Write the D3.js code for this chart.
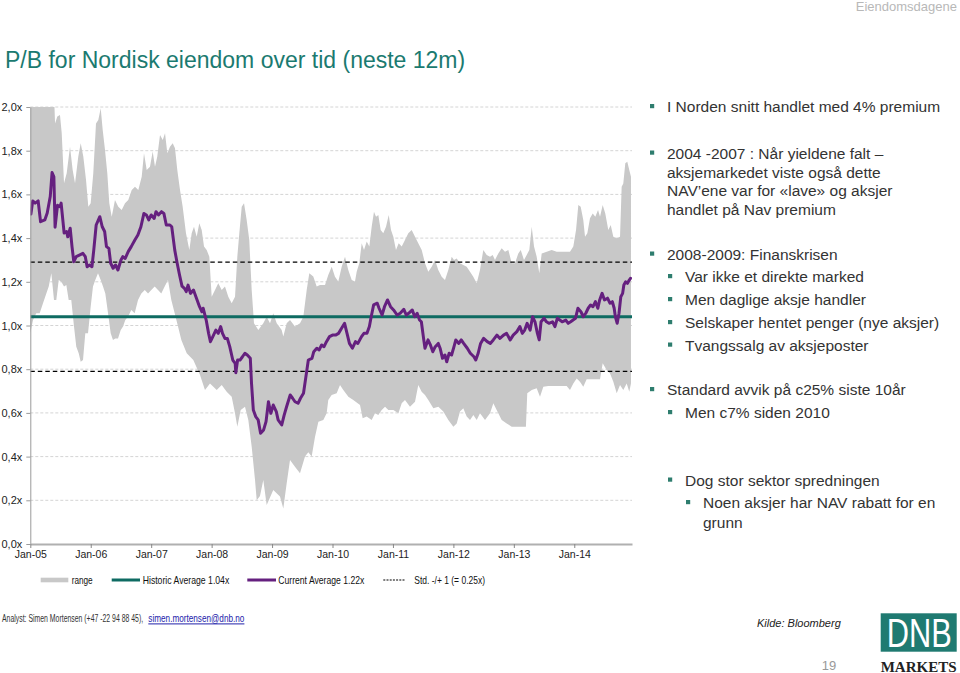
<!DOCTYPE html>
<html><head><meta charset="utf-8">
<script src="https://cdn.jsdelivr.net/npm/d3@7"></script>
<style>
body{margin:0;background:#fff;}
svg{display:block;font-family:"Liberation Sans",Arial,sans-serif;}
</style>
</head><body>
<svg id="chart" width="960" height="673"></svg>
<script>
// ---------------- DATA ----------------
const years = [2005,2006,2007,2008,2009,2010,2011,2012,2013,2014];
const yTicks = [0,0.2,0.4,0.6,0.8,1.0,1.2,1.4,1.6,1.8,2.0];
const historicAverage = 1.04;
const currentAverage = 1.22;
const stdDev = 0.25;

// current P/B (decimal year, value)
const currentPB = [
[2005.01,1.51],[2005.04,1.57],[2005.08,1.56],[2005.13,1.57],[2005.17,1.475],[2005.24,1.483],[2005.28,1.515],[2005.33,1.59],
[2005.36,1.70],[2005.39,1.68],[2005.41,1.45],[2005.45,1.55],[2005.49,1.544],[2005.51,1.56],[2005.56,1.423],[2005.60,1.43],
[2005.62,1.406],[2005.66,1.445],[2005.69,1.361],[2005.72,1.292],[2005.76,1.315],[2005.82,1.323],[2005.87,1.33],[2005.91,1.315],
[2005.94,1.269],[2005.98,1.277],[2006.02,1.269],[2006.05,1.345],[2006.09,1.46],[2006.15,1.498],[2006.19,1.452],[2006.23,1.43],
[2006.26,1.361],[2006.30,1.353],[2006.33,1.285],[2006.37,1.262],[2006.41,1.277],[2006.45,1.254],[2006.50,1.30],[2006.53,1.315],
[2006.57,1.307],[2006.62,1.338],[2006.67,1.361],[2006.73,1.391],[2006.78,1.414],[2006.83,1.452],[2006.88,1.513],[2006.92,1.506],
[2006.96,1.483],[2007.00,1.506],[2007.05,1.49],[2007.08,1.521],[2007.12,1.506],[2007.17,1.521],[2007.21,1.513],[2007.25,1.46],
[2007.31,1.46],[2007.34,1.452],[2007.39,1.345],[2007.43,1.285],[2007.47,1.23],[2007.51,1.18],[2007.55,1.17],[2007.58,1.155],
[2007.61,1.185],[2007.65,1.147],[2007.70,1.162],[2007.74,1.132],[2007.80,1.086],[2007.84,1.063],[2007.86,1.079],[2007.91,1.025],
[2007.95,0.964],[2007.98,0.926],[2008.02,0.949],[2008.07,0.979],[2008.11,0.964],[2008.15,0.995],[2008.18,0.964],[2008.22,0.941],
[2008.26,0.941],[2008.30,0.903],[2008.35,0.842],[2008.39,0.827],[2008.40,0.784],[2008.43,0.842],[2008.47,0.842],[2008.51,0.857],
[2008.55,0.873],[2008.59,0.865],[2008.64,0.85],[2008.66,0.735],[2008.69,0.613],[2008.73,0.583],[2008.77,0.568],[2008.81,0.507],
[2008.86,0.522],[2008.90,0.56],[2008.94,0.651],[2008.98,0.598],[2009.02,0.636],[2009.07,0.606],[2009.10,0.568],[2009.16,0.545],
[2009.20,0.59],[2009.24,0.628],[2009.30,0.682],[2009.34,0.667],[2009.38,0.651],[2009.43,0.644],[2009.47,0.667],[2009.52,0.69],
[2009.56,0.766],[2009.60,0.842],[2009.66,0.85],[2009.69,0.88],[2009.74,0.896],[2009.78,0.888],[2009.82,0.911],[2009.86,0.903],
[2009.90,0.926],[2009.95,0.949],[2010.00,0.956],[2010.05,0.956],[2010.10,0.964],[2010.15,0.987],[2010.20,1.01],[2010.24,0.964],
[2010.28,0.918],[2010.33,0.896],[2010.38,0.926],[2010.42,0.918],[2010.48,0.949],[2010.52,0.964],[2010.57,0.964],[2010.61,0.995],
[2010.64,1.04],[2010.68,1.094],[2010.74,1.102],[2010.77,1.079],[2010.82,1.048],[2010.86,1.086],[2010.91,1.117],[2010.96,1.086],
[2011.01,1.071],[2011.07,1.048],[2011.12,1.056],[2011.18,1.074],[2011.22,1.048],[2011.26,1.056],[2011.32,1.071],[2011.36,1.04],
[2011.40,1.056],[2011.44,1.025],[2011.47,1.017],[2011.51,0.934],[2011.53,0.896],[2011.58,0.934],[2011.62,0.911],[2011.66,0.88],
[2011.70,0.903],[2011.75,0.918],[2011.78,0.896],[2011.82,0.85],[2011.86,0.865],[2011.89,0.834],[2011.93,0.873],[2011.97,0.865],
[2012.01,0.903],[2012.04,0.934],[2012.09,0.918],[2012.13,0.934],[2012.17,0.918],[2012.23,0.896],[2012.28,0.873],[2012.34,0.857],
[2012.37,0.842],[2012.41,0.873],[2012.45,0.918],[2012.50,0.941],[2012.56,0.926],[2012.61,0.918],[2012.66,0.934],[2012.72,0.956],
[2012.77,0.941],[2012.83,0.956],[2012.88,0.964],[2012.94,0.934],[2012.99,0.956],[2013.05,0.972],[2013.10,0.995],[2013.14,0.964],
[2013.18,0.979],[2013.22,1.01],[2013.27,0.979],[2013.31,1.04],[2013.35,1.017],[2013.39,0.964],[2013.42,0.934],[2013.45,1.017],
[2013.50,1.033],[2013.54,1.017],[2013.58,1.01],[2013.64,1.017],[2013.68,0.995],[2013.72,1.033],[2013.76,1.025],[2013.80,1.017],
[2013.86,1.025],[2013.90,1.01],[2013.94,1.017],[2013.98,1.025],[2014.02,1.033],[2014.06,1.079],[2014.11,1.063],[2014.15,1.04],
[2014.19,1.056],[2014.23,1.079],[2014.27,1.094],[2014.31,1.086],[2014.35,1.109],[2014.39,1.079],[2014.42,1.117],[2014.46,1.147],
[2014.50,1.117],[2014.55,1.125],[2014.59,1.102],[2014.63,1.109],[2014.66,1.079],[2014.68,1.04],[2014.71,1.01],[2014.74,1.056],
[2014.77,1.132],[2014.80,1.147],[2014.82,1.185],[2014.85,1.20],[2014.88,1.193],[2014.91,1.208],[2014.93,1.216]
];

// range high (decimal year, value)
const rangeUpper = [
[2005.00,2.00],[2005.40,2.00],[2005.41,1.925],[2005.447,1.956],[2005.491,1.963],[2005.52,1.88],[2005.558,1.651],[2005.602,1.697],
[2005.657,1.818],[2005.701,1.712],[2005.74,1.651],[2005.794,1.773],[2005.834,1.834],[2005.877,1.773],[2005.922,1.666],[2005.96,1.544],
[2005.999,1.559],[2006.042,1.697],[2006.087,1.925],[2006.125,1.94],[2006.165,1.994],[2006.198,1.895],[2006.236,1.803],[2006.274,1.697],
[2006.307,1.559],[2006.347,1.498],[2006.401,1.574],[2006.456,1.544],[2006.512,1.529],[2006.567,1.559],[2006.621,1.574],[2006.678,1.62],
[2006.732,1.635],[2006.787,1.62],[2006.843,1.681],[2006.881,1.788],[2006.926,1.712],[2006.98,1.727],[2007.025,1.796],[2007.063,1.727],
[2007.101,1.773],[2007.146,1.872],[2007.191,1.849],[2007.229,1.88],[2007.267,1.788],[2007.311,1.818],[2007.356,1.834],[2007.394,1.811],
[2007.432,1.712],[2007.477,1.62],[2007.521,1.544],[2007.576,1.422],[2007.631,1.345],[2007.67,1.422],[2007.708,1.452],[2007.753,1.406],
[2007.796,1.468],[2007.836,1.437],[2007.874,1.361],[2007.918,1.345],[2007.962,1.315],[2008.001,1.132],[2008.056,1.162],[2008.11,1.193],
[2008.167,1.162],[2008.221,1.178],[2008.276,1.132],[2008.332,1.102],[2008.387,1.132],[2008.425,1.315],[2008.458,1.422],[2008.498,1.544],
[2008.536,1.559],[2008.58,1.483],[2008.623,1.391],[2008.663,1.162],[2008.701,1.01],[2008.772,0.979],[2008.855,1.01],[2008.911,1.04],
[2008.966,1.01],[2009.02,1.056],[2009.077,1.01],[2009.159,0.979],[2009.186,0.95],[2009.242,1.01],[2009.297,1.025],[2009.379,0.995],
[2009.462,1.01],[2009.517,1.04],[2009.573,1.162],[2009.616,1.239],[2009.682,1.224],[2009.738,1.178],[2009.793,1.185],[2009.876,1.185],
[2009.93,1.231],[2009.987,1.269],[2010.041,1.223],[2010.096,1.201],[2010.152,1.269],[2010.207,1.315],[2010.261,1.254],[2010.318,1.208],
[2010.372,1.201],[2010.40,1.246],[2010.443,1.285],[2010.483,1.376],[2010.521,1.346],[2010.566,1.384],[2010.609,1.361],[2010.648,1.452],
[2010.686,1.521],[2010.72,1.498],[2010.758,1.506],[2010.797,1.437],[2010.84,1.422],[2010.885,1.452],[2010.93,1.506],[2010.968,1.437],
[2011.006,1.406],[2011.05,1.346],[2011.095,1.376],[2011.145,1.361],[2011.199,1.391],[2011.254,1.422],[2011.31,1.437],[2011.365,1.406],
[2011.419,1.376],[2011.476,1.346],[2011.53,1.285],[2011.585,1.246],[2011.641,1.269],[2011.696,1.30],[2011.75,1.254],[2011.807,1.223],
[2011.861,1.208],[2011.916,1.254],[2011.972,1.315],[2012.01,1.30],[2012.055,1.307],[2012.109,1.285],[2012.164,1.277],[2012.22,1.269],
[2012.275,1.246],[2012.329,1.223],[2012.386,1.193],[2012.44,1.254],[2012.495,1.346],[2012.551,1.323],[2012.606,1.315],[2012.65,1.323],
[2012.688,1.30],[2012.743,1.33],[2012.799,1.353],[2012.854,1.338],[2012.909,1.346],[2012.965,1.285],[2013.019,1.285],[2013.074,1.33],
[2013.114,1.346],[2013.168,1.30],[2013.213,1.323],[2013.256,1.346],[2013.296,1.452],[2013.334,1.361],[2013.378,1.315],[2013.421,1.239],
[2013.461,1.33],[2013.544,1.338],[2013.626,1.346],[2013.709,1.338],[2013.818,1.338],[2013.929,1.338],[2013.984,1.361],[2014.029,1.437],
[2014.067,1.551],[2014.106,1.544],[2014.149,1.483],[2014.178,1.406],[2014.216,1.422],[2014.26,1.491],[2014.305,1.513],[2014.348,1.498],
[2014.393,1.529],[2014.426,1.498],[2014.47,1.551],[2014.513,1.513],[2014.563,1.437],[2014.603,1.46],[2014.646,1.406],[2014.702,1.399],
[2014.757,1.406],[2014.784,1.635],[2014.811,1.65],[2014.844,1.742],[2014.877,1.75],[2014.91,1.712],[2014.938,1.681]
];

// range low (decimal year, value)
const rangeLower = [
[2005.00,0.964],[2005.045,1.025],[2005.099,1.056],[2005.155,1.056],[2005.21,1.102],[2005.265,1.147],[2005.305,1.178],[2005.348,1.239],
[2005.392,1.117],[2005.43,1.117],[2005.47,1.208],[2005.513,1.20],[2005.558,1.178],[2005.596,1.185],[2005.635,1.117],[2005.678,1.117],
[2005.723,0.995],[2005.761,0.903],[2005.801,0.873],[2005.834,0.834],[2005.872,0.842],[2005.91,0.964],[2005.955,0.964],[2005.999,1.086],
[2006.037,1.178],[2006.075,1.208],[2006.12,1.239],[2006.165,1.208],[2006.203,1.178],[2006.241,1.147],[2006.286,1.056],[2006.33,0.964],
[2006.368,0.934],[2006.406,0.941],[2006.451,0.941],[2006.496,0.979],[2006.534,0.995],[2006.572,1.025],[2006.616,1.04],[2006.671,1.071],
[2006.727,1.056],[2006.782,1.117],[2006.837,1.147],[2006.894,1.162],[2006.948,1.147],[2007.002,1.162],[2007.058,1.178],[2007.113,1.162],
[2007.167,1.147],[2007.223,1.178],[2007.278,1.208],[2007.333,1.117],[2007.389,1.056],[2007.444,0.995],[2007.499,0.934],[2007.588,0.873],
[2007.697,0.842],[2007.808,0.773],[2007.89,0.705],[2007.973,0.735],[2008.084,0.705],[2008.167,0.728],[2008.249,0.697],[2008.332,0.674],
[2008.387,0.598],[2008.425,0.537],[2008.481,0.613],[2008.552,0.628],[2008.607,0.568],[2008.663,0.445],[2008.718,0.293],[2008.746,0.20],
[2008.80,0.22],[2008.855,0.293],[2008.911,0.178],[2009.02,0.247],[2009.131,0.217],[2009.186,0.163],[2009.242,0.278],[2009.297,0.384],
[2009.379,0.353],[2009.462,0.324],[2009.545,0.40],[2009.60,0.42],[2009.655,0.40],[2009.71,0.49],[2009.766,0.56],[2009.848,0.568],
[2009.903,0.598],[2009.93,0.659],[2009.986,0.682],[2010.069,0.69],[2010.124,0.728],[2010.179,0.705],[2010.262,0.674],[2010.344,0.659],
[2010.455,0.636],[2010.499,0.575],[2010.566,0.583],[2010.648,0.568],[2010.703,0.598],[2010.758,0.59],[2010.814,0.613],[2010.869,0.628],
[2010.924,0.613],[2011.007,0.613],[2011.09,0.598],[2011.145,0.644],[2011.199,0.659],[2011.282,0.628],[2011.365,0.651],[2011.419,0.728],
[2011.475,0.697],[2011.53,0.682],[2011.585,0.659],[2011.668,0.621],[2011.751,0.628],[2011.833,0.606],[2011.916,0.568],[2011.999,0.537],
[2012.055,0.552],[2012.109,0.606],[2012.164,0.621],[2012.22,0.583],[2012.275,0.568],[2012.33,0.59],[2012.386,0.568],[2012.44,0.598],
[2012.523,0.568],[2012.606,0.598],[2012.661,0.644],[2012.716,0.613],[2012.799,0.568],[2012.882,0.552],[2012.965,0.537],[2013.047,0.537],
[2013.20,0.537],[2013.222,0.69],[2013.296,0.705],[2013.378,0.713],[2013.433,0.674],[2013.488,0.72],[2013.57,0.723],[2013.709,0.723],
[2013.874,0.723],[2013.929,0.705],[2013.984,0.735],[2014.04,0.758],[2014.094,0.743],[2014.149,0.72],[2014.205,0.754],[2014.288,0.754],
[2014.426,0.754],[2014.47,0.827],[2014.536,0.796],[2014.59,0.781],[2014.646,0.743],[2014.702,0.69],[2014.757,0.728],[2014.811,0.705],
[2014.867,0.735],[2014.91,0.697],[2014.938,0.735]
];

const legendItems = ["range","Historic Average 1.04x","Current Average 1.22x","Std. -/+ 1 (= 0.25x)"];

const bullets = [
  {lvl:0, y:107, t:"I Norden snitt handlet med 4% premium"},
  {lvl:0, y:153.5, t:"2004 -2007 : Når yieldene falt –"},
  {lvl:-1, y:172.5, t:"aksjemarkedet viste også dette"},
  {lvl:-1, y:191, t:"NAV’ene var for «lave» og aksjer"},
  {lvl:-1, y:209.5, t:"handlet på Nav premium"},
  {lvl:0, y:254.5, t:"2008-2009: Finanskrisen"},
  {lvl:1, y:277, t:"Var ikke et direkte marked"},
  {lvl:1, y:300, t:"Men daglige aksje handler"},
  {lvl:1, y:323, t:"Selskaper hentet penger (nye aksjer)"},
  {lvl:1, y:345.5, t:"Tvangssalg av aksjeposter"},
  {lvl:0, y:390, t:"Standard avvik på c25% siste 10år"},
  {lvl:1, y:413, t:"Men c7% siden 2010"},
  {lvl:1, y:480.5, t:"Dog stor sektor spredningen"},
  {lvl:2, y:503, t:"Noen aksjer har NAV rabatt for en"},
  {lvl:-2, y:522.5, t:"grunn"}
];

// ---------------- DRAW ----------------
const svg = d3.select("#chart");
svg.append("rect").attr("width",960).attr("height",673).attr("fill","#fff");

const pLeft = 30.3, pRight = 632, pTop = 107, pBottom = 544;
const x = d3.scaleLinear().domain([2005, 2014.955]).range([pLeft, pRight]);
const y = d3.scaleLinear().domain([0, 2]).range([pBottom, pTop]);

svg.append("defs").append("clipPath").attr("id","plot")
  .append("rect").attr("x",pLeft).attr("y",pTop).attr("width",pRight-pLeft).attr("height",pBottom-pTop);

// gridlines
svg.append("g").selectAll("line").data(yTicks.filter(d=>d>0)).join("line")
  .attr("x1",pLeft).attr("x2",pRight).attr("y1",d=>y(d)).attr("y2",d=>y(d))
  .attr("stroke","#d4d4d4").attr("stroke-width",1).attr("stroke-dasharray","3,2");

const g = svg.append("g").attr("clip-path","url(#plot)");

// range area
const lineGen = d3.line().x(d=>x(d[0])).y(d=>y(d[1]));
g.append("path")
  .attr("d", lineGen(rangeUpper.concat(rangeLower.slice().reverse())) + "Z")
  .attr("fill","#c8c8c8").attr("stroke","none");

// std lines
[historicAverage+stdDev, historicAverage-stdDev].forEach(v=>{
  g.append("line").attr("x1",pLeft).attr("x2",pRight).attr("y1",y(v)).attr("y2",y(v))
   .attr("stroke","#000").attr("stroke-width",1.4).attr("stroke-dasharray","4.5,3");
});
// historic average
g.append("line").attr("x1",pLeft).attr("x2",pRight).attr("y1",y(historicAverage)).attr("y2",y(historicAverage))
  .attr("stroke","#0e6b62").attr("stroke-width",3);

// current P/B line
g.append("path").attr("d", lineGen(currentPB))
  .attr("fill","none").attr("stroke","#65207f").attr("stroke-width",3)
  .attr("stroke-linejoin","round").attr("stroke-linecap","round");

// axes
const yAxis = svg.append("g").attr("transform",`translate(${pLeft},0)`)
  .call(d3.axisLeft(y).tickValues(yTicks).tickFormat(d=>d.toFixed(1).replace(".",",")+"x").tickSize(4).tickSizeOuter(0).tickPadding(4));
yAxis.select(".domain").attr("stroke","#9a9a9a");
yAxis.selectAll(".tick line").attr("stroke","#9a9a9a");
yAxis.selectAll("text").attr("font-size",11).attr("fill","#222").attr("font-family","'Liberation Sans',Arial,sans-serif");

const xAxis = svg.append("g").attr("transform",`translate(0,${pBottom})`)
  .call(d3.axisBottom(x).tickValues(years).tickFormat(d=>"Jan-"+String(d).slice(2)).tickSize(4).tickSizeOuter(0).tickPadding(3));
xAxis.select(".domain").attr("stroke","#b0b0b0").attr("stroke-width",2);
xAxis.selectAll(".tick line").attr("stroke","#888");
xAxis.selectAll("text").attr("font-size",10.5).attr("fill","#222").attr("font-family","'Liberation Sans',Arial,sans-serif");

// legend
const lg = svg.append("g").attr("font-size",11.5).attr("fill","#111");
lg.append("rect").attr("x",40.7).attr("y",577.7).attr("width",27.6).attr("height",4.6).attr("fill","#c8c8c8");
lg.append("line").attr("x1",111.7).attr("x2",140).attr("y1",580).attr("y2",580).attr("stroke","#0e6b62").attr("stroke-width",3);
lg.append("line").attr("x1",247.3).attr("x2",276).attr("y1",580).attr("y2",580).attr("stroke","#65207f").attr("stroke-width",3);
lg.append("line").attr("x1",383.3).attr("x2",405).attr("y1",580).attr("y2",580).attr("stroke","#000").attr("stroke-width",1.2).attr("stroke-dasharray","2,1.2");
const legPos = [[71.7,21],[142.7,86.6],[278.3,86],[414.3,70.7]];
legendItems.forEach((t,i)=>{
  lg.append("text").attr("x",legPos[i][0]).attr("y",580).attr("dy","0.35em")
    .attr("textLength",legPos[i][1]).attr("lengthAdjust","spacingAndGlyphs").text(t);
});

// title & header
svg.append("text").attr("x",5).attr("y",68).attr("font-size",23).attr("fill","#1b7a70").text("P/B for Nordisk eiendom over tid (neste 12m)");
svg.append("text").attr("x",957).attr("y",11).attr("text-anchor","end").attr("font-size",13).attr("fill","#b8b8b8").text("Eiendomsdagene");

// right side bullets
const bx = {0:650, 1:668, 2:686};
const tx = {0:667, 1:685, 2:703, "-1":667, "-2":703};
const bg = svg.append("g").attr("font-size",15.5).attr("fill","#333");
bullets.forEach(b=>{
  if (b.lvl >= 0) bg.append("rect").attr("x",bx[b.lvl]).attr("y",b.y-3).attr("width",4.2).attr("height",4.2).attr("fill","#2e7d6e");
  bg.append("text").attr("x",tx[b.lvl]).attr("y",b.y).attr("dy","0.35em").text(b.t);
});

// footer (horizontally condensed via transforms)
svg.append("text").attr("transform","translate(2,622.3) scale(0.69,1)").attr("font-size",10).attr("fill","#333")
  .text("Analyst: Simen Mortensen (+47 -22 94 88 45),");
svg.append("text").attr("transform","translate(148.3,622.3) scale(0.82,1)").attr("font-size",10).attr("fill","#2222aa")
  .attr("text-decoration","underline").text("simen.mortensen@dnb.no");
svg.append("text").attr("x",757).attr("y",623.5).attr("dy","0.35em").attr("font-size",11).attr("font-style","italic").attr("fill","#222").text("Kilde: Bloomberg");
svg.append("text").attr("x",829).attr("y",665).attr("dy","0.35em").attr("text-anchor","middle").attr("font-size",13).attr("fill","#999").text("19");

// logo
svg.append("rect").attr("x",880.7).attr("y",613.3).attr("width",76).attr("height",38.4).attr("fill","#1f7a71");
svg.append("text").attr("transform","translate(886.7,646.5) scale(1,1.3)").attr("font-size",30.8).attr("fill","#fff").text("DNB");
svg.append("text").attr("x",880.7).attr("y",671.5).attr("font-family","'Liberation Serif',serif").attr("font-weight","bold")
  .attr("font-size",15.5).attr("fill","#222").attr("textLength",76).attr("lengthAdjust","spacingAndGlyphs").text("MARKETS");
</script>
</body></html>
